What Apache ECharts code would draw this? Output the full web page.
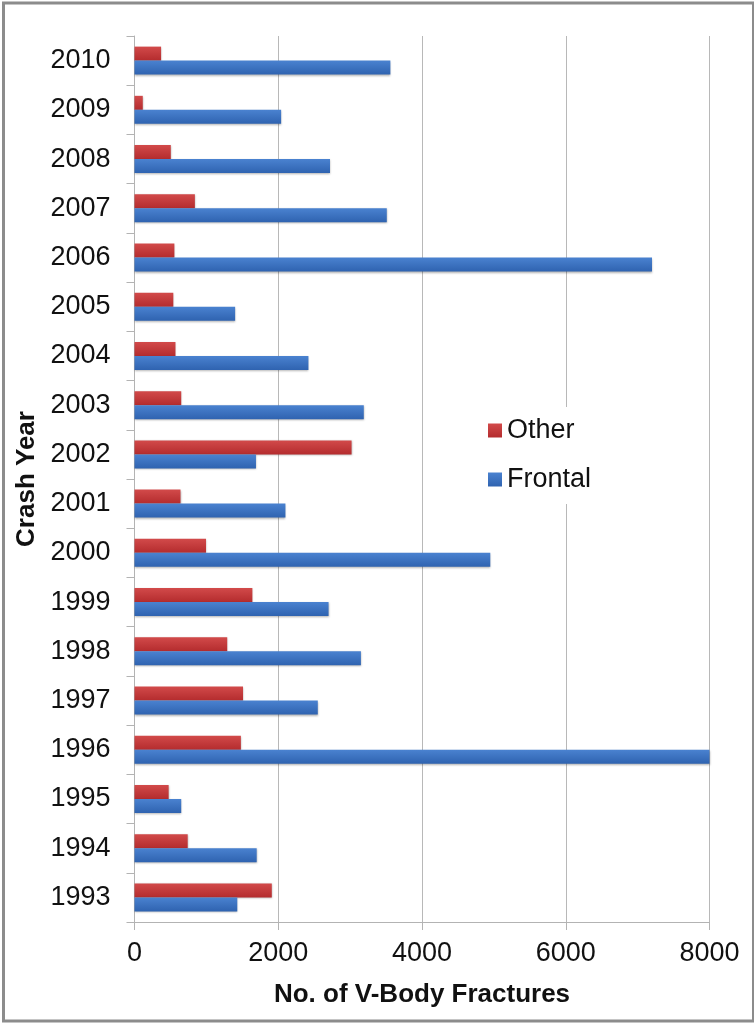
<!DOCTYPE html>
<html>
<head>
<meta charset="utf-8">
<script src="https://cdn.jsdelivr.net/npm/echarts@6/dist/echarts.min.js"></script>
<style>
html, body { margin: 0; padding: 0; background: #fff; }
#main { width: 754px; height: 1023px; }
</style>
</head>
<body>
<div id="main"></div>
<script>
// crash years, bottom to top
var years = ['1993', '1994', '1995', '1996', '1997', '1998', '1999', '2000', '2001',
    '2002', '2003', '2004', '2005', '2006', '2007', '2008', '2009', '2010'];
var frontal = [1430, 1700, 650, 8000, 2550, 3150, 2700, 4950, 2100,
    1690, 3190, 2420, 1400, 7200, 3510, 2720, 2040, 3560];
var other = [1910, 740, 475, 1480, 1510, 1290, 1640, 995, 640,
    3020, 650, 570, 540, 555, 840, 505, 115, 370];
var xTicks = [0, 2000, 4000, 6000, 8000];

var myChart = echarts.init(document.getElementById('main'));

var fontFam = 'Liberation Sans, Arial, sans-serif';

function grad(top, bottom) {
    return new echarts.graphic.LinearGradient(0, 0, 0, 1, [
        {offset: 0, color: top},
        {offset: 1, color: bottom}
    ]);
}

var option = {
    animation: false,
    backgroundColor: '#fff',
    grid: {
        left: 134.5,
        right: 44.5,
        top: 36,
        bottom: 101
    },
    legend: {
        orient: 'vertical',
        left: 486,
        top: 407,
        data: ['Other', 'Frontal'],
        icon: 'rect',
        backgroundColor: '#fff',
        padding: [10, 8, 11, 2],
        itemWidth: 14,
        itemHeight: 14,
        itemGap: 22,
        textStyle: {
            fontFamily: fontFam,
            fontSize: 27,
            lineHeight: 27,
            color: '#111'
        }
    },
    xAxis: {
        type: 'value',
        min: xTicks[0],
        max: xTicks[xTicks.length - 1],
        interval: 2000,
        name: 'No. of V-Body Fractures',
        nameLocation: 'middle',
        nameGap: 60,
        nameTextStyle: {
            fontFamily: fontFam,
            fontSize: 26,
            fontWeight: 'bold',
            color: '#111'
        },
        axisLine: { show: true, lineStyle: { color: '#b3b3b3', width: 1 } },
        axisTick: { show: true, length: 8, lineStyle: { color: '#b3b3b3' } },
        axisLabel: {
            margin: 18,
            fontFamily: fontFam,
            fontSize: 27,
            color: '#111',
            formatter: function (v) { return String(v); }
        },
        splitLine: { show: true, lineStyle: { color: '#b8b8b8', width: 1 } }
    },
    yAxis: {
        type: 'category',
        data: years,
        name: 'Crash Year',
        nameLocation: 'middle',
        nameGap: 95,
        nameRotate: 90,
        nameTextStyle: {
            fontFamily: fontFam,
            fontSize: 26,
            fontWeight: 'bold',
            color: '#111'
        },
        axisLine: { show: true, lineStyle: { color: '#b3b3b3', width: 1 } },
        axisTick: { show: true, length: 8, lineStyle: { color: '#b3b3b3' } },
        axisLabel: {
            margin: 24,
            fontFamily: fontFam,
            fontSize: 27,
            color: '#111'
        }
    },
    series: [
        {
            name: 'Other',
            type: 'bar',
            barWidth: 14,
            barGap: '0%',
            itemStyle: {
                color: grad('#d24a4a', '#b42c2e'),
                shadowColor: 'rgba(0,0,0,0.3)',
                shadowBlur: 2,
                shadowOffsetY: 1
            },
            data: other
        },
        {
            name: 'Frontal',
            type: 'bar',
            barWidth: 14,
            barGap: '0%',
            itemStyle: {
                color: grad('#4a82d0', '#2f63b0'),
                shadowColor: 'rgba(0,0,0,0.3)',
                shadowBlur: 2,
                shadowOffsetY: 1
            },
            data: frontal
        }
    ],
    graphic: [
        {
            type: 'rect',
            left: 1,
            top: 0.5,
            shape: { width: 750, height: 1018 },
            style: { fill: 'none', stroke: '#8c8c8c', lineWidth: 3 },
            silent: true
        }
    ]
};

myChart.setOption(option);
window.onresize = myChart.resize;
</script>
</body>
</html>
